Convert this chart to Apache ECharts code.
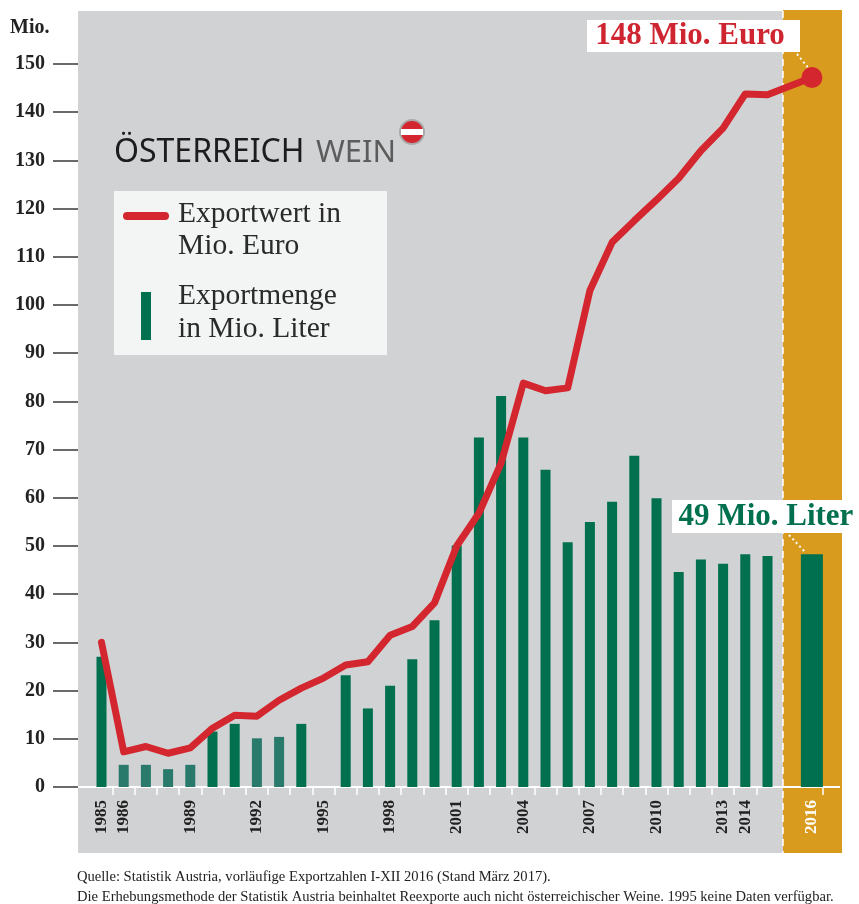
<!DOCTYPE html>
<html><head><meta charset="utf-8">
<script src="https://cdn.jsdelivr.net/npm/echarts@6/dist/echarts.min.js"></script>
<style>html,body{margin:0;padding:0;background:#fff}#c{width:859px;height:904px}</style>
</head><body><div id="c"></div>
<script>
// ---- data ----
const years = [1985,1986,1987,1988,1989,1990,1991,1992,1993,1994,1995,1996,1997,1998,1999,2000,
               2001,2002,2003,2004,2005,2006,2007,2008,2009,2010,2011,2012,2013,2014,2015,2016];
// Exportwert in Mio. Euro
const exportValue = [30,7.3,8.4,7.0,8.1,12.2,14.9,14.7,18,20.5,22.6,25.3,26,31.5,33.3,38.2,
                     50,56.8,67.2,83.8,82.2,82.8,103,113,117.5,121.8,126.3,132,136.7,143.8,143.6,147.2];
// Exportmenge in Mio. Liter (1995: keine Daten)
const exportVolume = [27.0,4.6,4.6,3.7,4.6,11.5,13.1,10.1,10.4,13.1,null,23.2,16.3,21.0,26.5,34.6,
                      50.1,72.5,81.1,72.5,65.8,50.8,55.0,59.2,68.7,59.9,44.6,47.2,46.3,48.3,47.9,48.3];
const lighterYears = [1986,1987,1988,1989,1992,1993];
const labeledYears = [1985,1986,1989,1992,1995,1998,2001,2004,2007,2010,2013,2014,2016];
const yTicks = [0,150,10]; // min, max, interval
const valueNote = '148 Mio. Euro';
const volumeNote = '49 Mio. Liter';
const sourceLines = [
  'Quelle: Statistik Austria, vorläufige Exportzahlen I-XII 2016 (Stand März 2017).',
  'Die Erhebungsmethode der Statistik Austria beinhaltet Reexporte auch nicht österreichischer Weine. 1995 keine Daten verfügbar.'
];

// ---- build ----
const n = years.length;
const categories = [...years.slice(0, n - 1).map(String), '', String(years[n - 1])];
const lastIdx = categories.length - 1;

const GREEN = '#00704f', TEAL = '#2a7a6c', RED = '#d4262e', ORANGE = '#d99b1d', GRAY = '#d1d2d4';
const SERIF = '"Liberation Serif", "Times New Roman", serif';

const lineData = [...exportValue.slice(0, n - 1), null,
  {value: exportValue[n - 1], symbol: 'circle', symbolSize: 21}];
const barData = [...exportVolume.slice(0, n - 1).map((v, i) => v == null ? null :
  {value: v, itemStyle: {color: lighterYears.includes(years[i]) ? TEAL : GREEN}}), null, null];
const bar2016 = categories.map((c, i) => i === lastIdx ? exportVolume[n - 1] : null);

const chart = echarts.init(document.getElementById('c'), null, {renderer: 'canvas'});
chart.setOption({
  animation: false,
  backgroundColor: '#ffffff',
  grid: {left: 90.4, right: 36, top: 64, bottom: 117},
  xAxis: [{
    type: 'category', data: categories,
    axisLine: {show: true, lineStyle: {color: '#ffffff', width: 2}},
    axisTick: {show: true, length: 8, lineStyle: {color: '#ffffff', width: 1.5},
      interval: (i) => i >= 1 && i <= n - 2},
    axisLabel: {
      rotate: 90, margin: 13, fontFamily: SERIF, fontWeight: 'bold', fontSize: 17,
      interval: (i, v) => labeledYears.includes(Number(v)),
      color: (v) => v === String(years[n - 1]) ? '#ffffff' : '#222222'
    },
    splitLine: {show: false}
  }, {
    type: 'category', data: categories, show: false
  }],
  yAxis: {
    type: 'value', min: yTicks[0], max: yTicks[1], interval: yTicks[2], offset: 12.4,
    axisLine: {show: false},
    axisTick: {show: true, length: 25, lineStyle: {color: '#3a3a3a', width: 1.5}},
    axisLabel: {margin: 33, fontFamily: SERIF, fontWeight: 'bold', fontSize: 20, color: '#222222'},
    splitLine: {show: false}
  },
  series: [
    {name: 'Exportmenge in Mio. Liter', type: 'bar', data: barData, barWidth: 10, xAxisIndex: 0, z: 2},
    {name: 'Exportmenge 2016', type: 'bar', data: bar2016, barWidth: 22, xAxisIndex: 1,
      itemStyle: {color: GREEN}, z: 2},
    {name: 'Exportwert in Mio. Euro', type: 'line', data: lineData, connectNulls: true,
      symbol: 'none', showSymbol: true, showAllSymbol: true,
      lineStyle: {color: RED, width: 7, cap: 'round', join: 'round'},
      itemStyle: {color: RED}, z: 4}
  ],
  graphic: [
    // backgrounds
    {type: 'rect', z: -10, shape: {x: 78, y: 11, width: 705, height: 842}, style: {fill: GRAY}, silent: true},
    {type: 'rect', z: -10, shape: {x: 783, y: 10, width: 59, height: 843}, style: {fill: ORANGE}, silent: true},
    {type: 'line', z: -9, shape: {x1: 783, y1: 11, x2: 783, y2: 853},
      style: {stroke: '#ffffff', lineWidth: 1.5, lineDash: [7, 5]}, silent: true},
    {type: 'line', z: -9, shape: {x1: 78, y1: 787, x2: 840, y2: 787},
      style: {stroke: '#ffffff', lineWidth: 2}, silent: true},
    // axis unit
    {type: 'text', x: 10, y: 28, style: {text: 'Mio.', font: 'bold 20px ' + SERIF, fill: '#222', verticalAlign: 'middle'}},
    // logo
    {type: 'text', x: 114, y: 153, style: {text: 'ÖSTERREICH', font: '32px "Noto Sans", sans-serif', fill: '#1c1c1c', verticalAlign: 'middle'}},
    {type: 'text', x: 316, y: 153, style: {text: 'WEIN', font: '31px "Noto Sans", sans-serif', fill: '#5c5c5c', verticalAlign: 'middle'}},
    {type: 'circle', shape: {cx: 412, cy: 132, r: 12}, style: {fill: RED, stroke: '#a9a9a9', lineWidth: 2}},
    {type: 'rect', shape: {x: 401, y: 129, width: 22, height: 6}, style: {fill: '#ffffff'}},
    // legend
    {type: 'rect', shape: {x: 114, y: 191, width: 273, height: 164}, style: {fill: '#f3f4f4'}},
    {type: 'line', shape: {x1: 127, y1: 216, x2: 165, y2: 216}, style: {stroke: RED, lineWidth: 8, lineCap: 'round'}},
    {type: 'rect', shape: {x: 141, y: 292, width: 10, height: 48}, style: {fill: GREEN}},
    {type: 'text', x: 178, y: 214, style: {text: 'Exportwert in', font: '29.5px ' + SERIF, fill: '#2a2a2a', verticalAlign: 'middle'}},
    {type: 'text', x: 178, y: 246.5, style: {text: 'Mio. Euro', font: '29.5px ' + SERIF, fill: '#2a2a2a', verticalAlign: 'middle'}},
    {type: 'text', x: 178, y: 296.5, style: {text: 'Exportmenge', font: '29.5px ' + SERIF, fill: '#2a2a2a', verticalAlign: 'middle'}},
    {type: 'text', x: 178, y: 329, style: {text: 'in Mio. Liter', font: '29.5px ' + SERIF, fill: '#2a2a2a', verticalAlign: 'middle'}},
    // annotations
    {type: 'rect', shape: {x: 587, y: 20, width: 213, height: 32}, style: {fill: '#ffffff'}},
    {type: 'text', x: 690, y: 36, style: {text: valueNote, font: 'bold 31px ' + SERIF, fill: '#cf2530', align: 'center', verticalAlign: 'middle'}},
    {type: 'line', shape: {x1: 797, y1: 54, x2: 810, y2: 70}, style: {stroke: '#ffffff', lineWidth: 2, lineDash: [2, 3]}},
    {type: 'rect', shape: {x: 672, y: 500, width: 187, height: 33}, style: {fill: '#ffffff'}},
    {type: 'text', x: 766, y: 517, style: {text: volumeNote, font: 'bold 31px ' + SERIF, fill: GREEN, align: 'center', verticalAlign: 'middle'}},
    {type: 'line', shape: {x1: 789, y1: 535, x2: 806, y2: 553}, style: {stroke: '#ffffff', lineWidth: 2, lineDash: [2, 3]}},
    // source
    {type: 'text', x: 77, y: 877, style: {text: sourceLines[0], font: '14.6px ' + SERIF, fill: '#222', verticalAlign: 'middle'}},
    {type: 'text', x: 77, y: 897, style: {text: sourceLines[1], font: '14.6px ' + SERIF, fill: '#222', verticalAlign: 'middle'}}
  ]
});
</script></body></html>
